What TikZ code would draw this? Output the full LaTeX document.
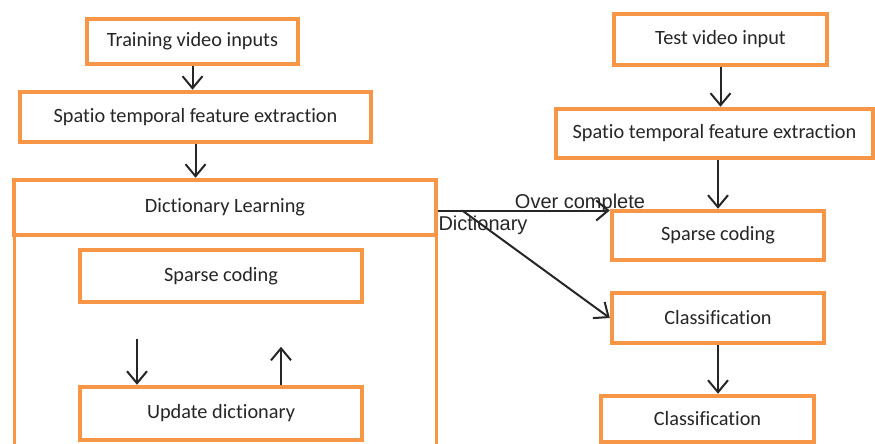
\documentclass[tikz,border=0pt]{standalone}
\usepackage{fontspec}
\setmainfont{Carlito}[Ligatures=NoCommon]
\newfontfamily\labelfont{Liberation Sans}
\usetikzlibrary{scopes,arrows.meta,calc}
\definecolor{boxorange}{HTML}{F79646}
\definecolor{boxtext}{HTML}{262626}

\begin{document}
\begin{tikzpicture}[
    x=1pt,y=-1pt,
    box/.style={draw=boxorange,line width=4.5pt,fill=white,inner sep=0pt,text=boxtext,
        font=\fontsize{20.3}{24}\selectfont},
    frame/.style={draw=boxorange,line width=3pt},
    arr/.style={>={Straight Barb[length=12pt,width=20pt]},line width=2pt,draw=boxtext},
    lbl/.style={font=\labelfont\fontsize{20}{24}\selectfont,inner sep=0pt,text=boxtext},
]
    \useasboundingbox (0,0) rectangle (875,444);
    % training side
    \node[box,minimum width=211pt,minimum height=45pt] (tvi) at (192.5,41.5) {Training video inputs};
    \node[box,minimum width=351pt,minimum height=50pt] (ste) at (195.5,117) {Spatio temporal feature extraction};
    \draw[frame] (14,446) -- (14,207.5) (436,207.5) -- (436,446);
    \node[box,minimum width=422pt,minimum height=55pt] (dl) at (225,207.5) {Dictionary Learning};
    \node[box,minimum width=282pt,minimum height=52pt] (sc) at (221,276) {Sparse coding};
    \node[box,minimum width=282pt,minimum height=53pt] (ud) at (221,413.5) {Update dictionary};
    % test side
    \node[box,minimum width=213pt,minimum height=51pt] (tv) at (720.5,39.5) {Test video input};
    \node[box,minimum width=317pt,minimum height=49pt] (ste2) at (714.5,133.5) {Spatio temporal feature extraction};
    \node[box,minimum width=212pt,minimum height=49pt] (sc2) at (718,235.5) {Sparse coding};
    \node[box,minimum width=212pt,minimum height=50pt] (cls) at (718,318) {Classification};
    \node[box,minimum width=213pt,minimum height=46pt] (cls2) at (707.5,419) {Classification};
    \coordinate (split) at ([xshift=24pt,yshift=-3pt]dl.east);
    {[arr,->]
        \draw (tvi.south) -- (tvi.south |- ste.north);
        \draw (ste.south) -- (ste.south |- dl.north);
        \draw ($(ud.north)+(-84,-46)$) -- ($(ud.north)+(-84,0)$);
        \draw ($(ud.north)+(60,0)$) -- ($(ud.north)+(60,-38)$);
        \draw (tv.south) -- (tv.south |- ste2.north);
        \draw (ste2.south -| sc2.north) -- (sc2.north);
        \draw (cls.south) -- (cls.south |- cls2.north);
        \draw ([yshift=-3pt]dl.east) -- ([yshift=-3pt]dl.east -| sc2.west);
        \draw (split) -- (cls.west);
    }
    \node[lbl] (oc) at (580,203) {Over complete};
    \node[lbl] (dict) at (483,225) {Dictionary};
\end{tikzpicture}
\end{document}
